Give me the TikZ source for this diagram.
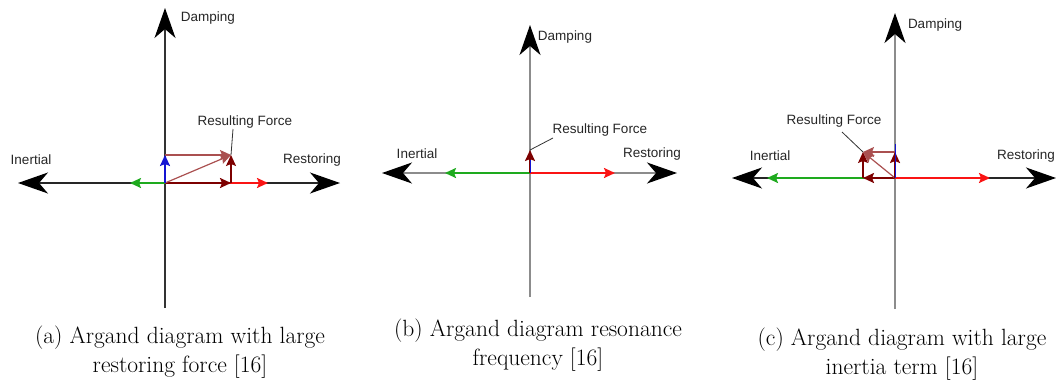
\documentclass[tikz,border=0pt]{standalone}
\usepackage{fontspec}
\newfontfamily\lblfont{Liberation Sans}
\usetikzlibrary{arrows.meta}

\definecolor{fgreen}{RGB}{30,170,30}
\definecolor{fred}{RGB}{250,20,20}
\definecolor{fdark}{RGB}{125,0,0}
\definecolor{flight}{RGB}{170,80,80}
\definecolor{fblue}{RGB}{20,20,210}
\definecolor{axgray}{RGB}{140,140,140}

\tikzset{
  bigtip/.tip={Stealth[length=30pt,width=21pt,inset=9pt,color=black,fill=black]},
  axis/.style={line width=1.3pt, bigtip-bigtip},
  vaxis/.style={line width=1.3pt, -bigtip},
  force/.style={line width=2pt, -{Stealth[length=11pt,width=10pt,inset=2pt]}},
  thinforce/.style={line width=1.2pt, -{Stealth[length=11pt,width=10pt,inset=2pt]}},
  leader/.style={line width=0.8pt, black!80},
  lbl/.style={font=\lblfont\fontsize{13.5}{15}\selectfont, text=black!85, inner sep=0pt},
  caption/.style={align=center, font=\fontsize{23.5}{28.5}\selectfont, inner sep=0pt}
}

\begin{document}
\begin{tikzpicture}[x=1pt, y=-1pt]
  \useasboundingbox (0,0) rectangle (1056,380);

  % (a) large restoring force
  \coordinate (aO) at (165,183);
  \coordinate (aL) at (18,183);
  \coordinate (aR) at (340,183);
  \coordinate (aT) at (165,8);
  \coordinate (aB) at (165,308);
  \coordinate (aIn) at (130,183);   % inertia
  \coordinate (aRe) at (268,183);   % restoring
  \coordinate (aDa) at (165,155);   % damping
  \coordinate (aX) at (231,183);    % resultant components
  \coordinate (aF) at (231,155);    % resultant
  \coordinate (aLd) at (233,129);   % leader end

  \draw[vaxis, black!80] (aB) -- (aT);
  \draw[axis, black!85] (aL) -- (aR);
  \draw[force, fgreen] (aO) -- (aIn);
  \draw[force, fred] (aO) -- (aRe);
  \draw[force, fdark] (aO) -- (aX);
  \draw[thinforce, flight] (aDa) -- (aF);
  \draw[thinforce, fdark] (aX) -- (aF);
  \draw[thinforce, flight] (aO) -- (aF);
  \draw[force, fblue] (aO) -- (aDa);
  \draw[leader] (aF) -- (aLd);

  \node[lbl] (aDamp) at (208,18) {Damping};
  \node[lbl] (aInert) at (31,160) {Inertial};
  \node[lbl] (aRest) at (312,160) {Restoring};
  \node[lbl] (aRes) at (245,122) {Resulting Force};

  % (b) resonance
  \coordinate (bO) at (530,173);
  \coordinate (bL) at (382,173);
  \coordinate (bR) at (677,173);
  \coordinate (bT) at (530,25);
  \coordinate (bB) at (530,297);
  \coordinate (bIn) at (445,173);
  \coordinate (bRe) at (615,173);
  \coordinate (bF) at (530,150);
  \coordinate (bDa) at (530,160);
  \coordinate (bLd) at (553,138);

  \draw[vaxis, axgray] (bB) -- (bT);
  \draw[axis, axgray] (bL) -- (bR);
  \draw[force, fgreen] (bO) -- (bIn);
  \draw[force, fred] (bO) -- (bRe);
  \draw[force, fdark] (bO) -- (bF);
  \draw[line width=1pt, fblue] (bO) -- (bDa);
  \draw[leader] (bF) -- (bLd);

  \node[lbl] (bDamp) at (565,37) {Damping};
  \node[lbl] (bInert) at (417,154) {Inertial};
  \node[lbl] (bRest) at (652,154) {Restoring};
  \node[lbl] (bRes) at (600,130) {Resulting Force};

  % (c) large inertia
  \coordinate (cO) at (895,178);
  \coordinate (cL) at (732,178);
  \coordinate (cR) at (1056,178);
  \coordinate (cT) at (895,13);
  \coordinate (cB) at (895,309);
  \coordinate (cIn) at (767,178);
  \coordinate (cRe) at (990,178);
  \coordinate (cDa) at (895,152);
  \coordinate (cX) at (863,178);
  \coordinate (cF) at (863,152);
  \coordinate (cLd) at (842,132);

  \draw[vaxis, axgray, line width=2pt] (cB) -- (cT);
  \draw[axis, black!85] (cL) -- (cR);
  \draw[force, fgreen] (cO) -- (cIn);
  \draw[force, fred] (cO) -- (cRe);
  \draw[force, fdark] (cO) -- (cX);
  \draw[thinforce, flight] (cDa) -- (cF);
  \draw[thinforce, fdark] (cX) -- (cF);
  \draw[thinforce, flight] (cO) -- (cF);
  \draw[force, fdark] (cO) -- (cDa);
  \draw[line width=1pt, fblue] (cO) -- ([yshift=8pt]cDa);
  \draw[leader] (cF) -- (cLd);

  \node[lbl] (cDamp) at (935,25) {Damping};
  \node[lbl] (cInert) at (770,156) {Inertial};
  \node[lbl, anchor=east] (cRest) at (1055,156) {Restoring};
  \node[lbl] (cRes) at (834,121) {Resulting Force};

  % captions
  \node[caption] (capA) at (180,352) {(a) Argand diagram with large\\restoring force [16]};
  \node[caption] (capB) at (538,345) {(b) Argand diagram resonance\\frequency [16]};
  \node[caption] (capC) at (902,354) {(c) Argand diagram with large\\inertia term [16]};
\end{tikzpicture}
\end{document}
